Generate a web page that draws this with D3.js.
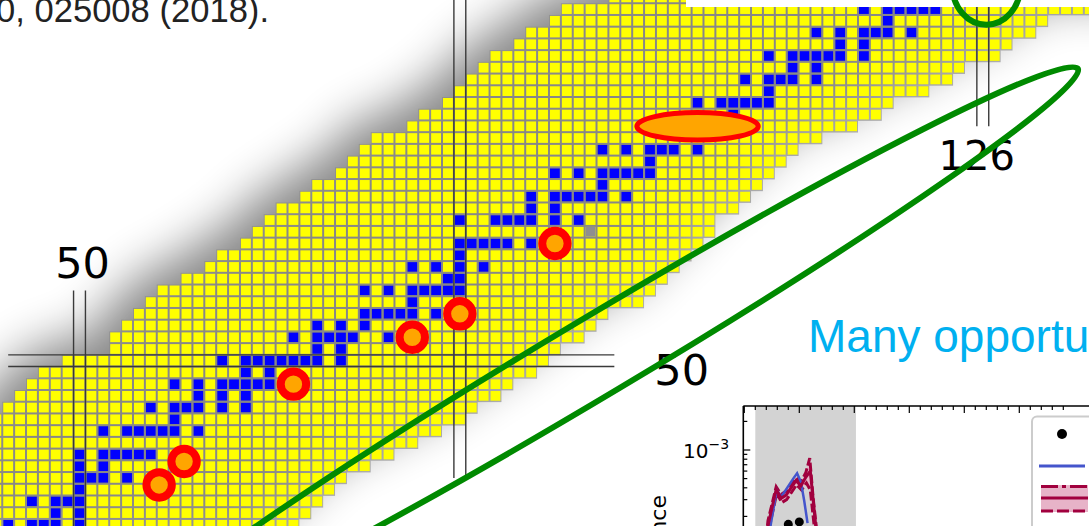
<!DOCTYPE html>
<html>
<head>
<meta charset="utf-8">
<script src="https://cdn.jsdelivr.net/npm/d3@7"></script>
<style>
  html, body { margin: 0; padding: 0; background: #fff; overflow: hidden; }
  svg { display: block; }
</style>
</head>
<body>
<svg id="chart" width="1089" height="526"></svg>
<script>
// ---- Chart of nuclides: one row per proton number Z, cells for neutron number N ----
const rowZ    = [34, 35, 36, 37, 38, 39, 40, 41, 42, 43, 44, 45, 46, 47, 48, 49, 50, 51, 52, 53, 54, 55, 56, 57, 58, 59, 60, 61, 62, 63, 64, 65, 66, 67, 68, 69, 70, 71, 72, 73, 74, 75, 76, 77, 78, 79, 80, 81, 82, 83];
const rowNmin = [36, 37, 38, 39, 40, 41, 41, 42, 42, 43, 43, 43, 44, 45, 46, 47, 49, 53, 53, 54, 55, 56, 57, 59, 61, 62, 64, 65, 66, 67, 69, 70, 72, 73, 74, 75, 78, 79, 81, 82, 83, 84, 85, 87, 88, 90, 91, 95, 96, 98];
const rowNmax = [64, 66, 68, 69, 70, 71, 72, 74, 76, 78, 80, 82, 83, 85, 86, 88, 89, 90, 92, 93, 94, 97, 98, 99, 100, 101, 102, 103, 103, 105, 106, 107, 108, 109, 110, 112, 115, 117, 118, 121, 123, 124, 127, 128, 130, 131, 140, 140, 140, 140];

// highlighted nuclides [N, Z]
const blueCells = [
  [116,80],[118,80],[119,80],[120,80],[121,80],[122,80],
  [118,79],
  [112,78],[114,78],[116,78],[117,78],[118,78],[120,78],
  [114,77],[116,77],
  [108,76],[110,76],[111,76],[112,76],[113,76],[114,76],[116,76],
  [110,75],[112,75],
  [106,74],[108,74],[109,74],[110,74],[112,74],
  [108,73],
  [102,72],[104,72],[105,72],[106,72],[107,72],[108,72],
  [105,71],
  [94,68],[96,68],[98,68],[99,68],[100,68],[102,68],
  [98,67],
  [90,66],[92,66],[94,66],[95,66],[96,66],[97,66],[98,66],
  [94,65],
  [88,64],[90,64],[91,64],[92,64],[93,64],[94,64],[96,64],
  [88,63],[90,63],
  [82,62],[85,62],[86,62],[87,62],[88,62],[90,62],[92,62],
  [82,60],[83,60],[84,60],[85,60],[86,60],[88,60],
  [82,59],
  [78,58],[80,58],[82,58],[84,58],
  [81,57],[82,57],
  [74,56],[76,56],[78,56],[79,56],[80,56],[81,56],[82,56],
  [78,55],
  [74,54],[75,54],[76,54],[77,54],[78,54],[80,54],
  [70,53],[72,53],[74,53],
  [68,52],[70,52],[71,52],[72,52],[73,52],[76,52],
  [70,51],[72,51],
  [62,50],[64,50],[65,50],[66,50],[67,50],[68,50],[69,50],[70,50],[72,50],
  [64,49],[66,49],
  [58,48],[60,48],[62,48],[63,48],[64,48],[65,48],[66,48],
  [60,47],[62,47],[64,47],
  [56,46],[58,46],[59,46],[60,46],[62,46],[64,46],
  [58,45],
  [52,44],[54,44],[55,44],[56,44],[57,44],[58,44],[60,44],
  [50,42],[52,42],[53,42],[54,42],[55,42],[56,42],
  [50,41],[52,41],
  [50,40],[51,40],[52,40],[54,40],
  [50,39],
  [46,38],[48,38],[49,38],[50,38],
  [48,37],[50,37],
  [44,36],[46,36],[47,36],[48,36],[50,36]
];
const grayCells = [[93,61]];

// circled nuclides [N, Z]
const circleMarks = [[90,60],[82,54],[78,52],[68,48],[58.8,41.4],[56.7,39.4]];
// elongated marker around a group of nuclides [N, Z]
const ovalMark = [102, 70];
// region outlines, centres in [N, Z]
const regionOval = [93.55, 50.4];
const doublyMagic = [126.3, 82.0];

// magic numbers and the extent of their guide lines
const magicN      = [50, 82, 126];
const magicNFromZ = [30, 40, 70];
const magicNToZ   = [56, 90, 90];
const magicZ      = [50];
const magicZFromN = [44];
const magicZToN   = [95];

// inset: isotopic abundance vs mass number
const centreA = [94.0, 94.3, 95.8, 96.7, 97.6, 99.4, 100.3, 101.2, 102.0, 103.2];
const centreV = [1.1e-4, 1.6e-4, 3.85e-4, 3.1e-4, 3.35e-4, 4.75e-4, 4.2e-4, 5.2e-4, 6.0e-4, 1.2e-4];
const upperA  = [94.0, 94.3, 95.8, 96.7, 97.6, 99.4, 100.3, 101.2, 101.9, 102.5, 103.3];
const upperV  = [1.2e-4, 1.8e-4, 4.1e-4, 3.4e-4, 3.7e-4, 5.1e-4, 4.6e-4, 5.8e-4, 8.2e-4, 3.2e-4, 1.2e-4];
const lowerA  = [94.2, 94.5, 95.9, 96.8, 97.7, 99.5, 100.4, 101.3, 102.0, 103.0];
const lowerV  = [1.1e-4, 1.5e-4, 3.5e-4, 2.8e-4, 3.0e-4, 4.3e-4, 3.8e-4, 4.5e-4, 3.8e-4, 1.1e-4];
const modelA  = [94.4, 95.9, 96.7, 98.9, 99.6, 100.3, 100.9, 101.5];
const modelV  = [1.2e-4, 3.8e-4, 3.2e-4, 5.0e-4, 5.7e-4, 4.6e-4, 2.9e-4, 1.7e-4];
const obsA    = [98.0, 100.0];
const obsV    = [1.65e-4, 1.75e-4];

const svg = d3.select("#chart");
const W = 1089, H = 526;

// cell pitch follows from the scales
const x = d3.scaleLinear().domain([50, 126]).range([79.5, 982.8]);
const y = d3.scaleLinear().domain([50, 80]).range([360.7, 9.1]);
const pw = x(51) - x(50);
const ph = y(50) - y(51);
const gap = 2;

const defs = svg.append("defs");
const soft = defs.append("filter").attr("id", "soft")
  .attr("filterUnits", "userSpaceOnUse")
  .attr("x", -300).attr("y", -300).attr("width", 1800).attr("height", 1200);
soft.append("feGaussianBlur").attr("stdDeviation", 24);

svg.append("rect").attr("width", W).attr("height", H).attr("fill", "#fff");

const rows = rowZ.map((z, i) => ({ z, n0: rowNmin[i], n1: rowNmax[i] }));
const rowRect = sel => sel
  .attr("x", d => x(d.n0) - pw / 2)
  .attr("y", d => y(d.z) - ph / 2)
  .attr("width", d => x(d.n1) - x(d.n0) + pw)
  .attr("height", ph + 0.4);

// drop shadow of the whole band
svg.append("g")
  .attr("filter", "url(#soft)")
  .attr("opacity", 0.47)
  .append("g").attr("transform", "translate(-15,-15)")
  .selectAll("rect").data(rows).join("rect")
  .call(rowRect)
  .attr("fill", "#000");

// grid lines between cells
svg.append("g").attr("opacity", 0.66)
  .selectAll("rect").data(rows).join("rect")
  .call(rowRect)
  .attr("fill", "#8a8a8a");

// yellow cells
const cells = [];
rows.forEach(r => { for (let n = r.n0; n <= r.n1; n++) cells.push([n, r.z]); });
const cellRect = sel => sel
  .attr("x", d => x(d[0]) - pw / 2 + gap / 2)
  .attr("y", d => y(d[1]) - ph / 2 + gap / 2)
  .attr("width", pw - gap).attr("height", ph - gap);
const cellG = svg.append("g");
cellG.selectAll("rect.known").data(cells).join("rect")
  .attr("class", "known").call(cellRect).attr("fill", "#ffff00");
cellG.selectAll("rect.hl").data(blueCells).join("rect")
  .attr("class", "hl").call(cellRect).attr("fill", "#0000ff");
cellG.selectAll("rect.gr").data(grayCells).join("rect")
  .attr("class", "gr").call(cellRect).attr("fill", "#8f8f8f");

// magic-number guide lines
const lineG = svg.append("g").attr("stroke", "#3a3a3a").attr("stroke-width", 1.4);
magicN.forEach((n, i) => {
  [-0.5, 0.5].forEach(o => {
    lineG.append("line")
      .attr("x1", x(n + o)).attr("x2", x(n + o))
      .attr("y1", y(magicNToZ[i])).attr("y2", y(magicNFromZ[i]));
  });
});
magicZ.forEach((z, i) => {
  [-0.5, 0.5].forEach(o => {
    lineG.append("line")
      .attr("y1", y(z + o)).attr("y2", y(z + o))
      .attr("x1", x(magicZFromN[i])).attr("x2", x(magicZToN[i]));
  });
});

const labelFont = "DejaVu Sans, sans-serif";
// N = 50 label above its lines, N = 126 label below its lines
svg.append("text").attr("x", x(magicN[0]) + 3).attr("y", y(magicNToZ[0]) - 12)
  .attr("text-anchor", "middle").attr("font-family", labelFont).attr("font-size", 43)
  .text(magicN[0]);
svg.append("text").attr("x", x(magicN[2]) - 6).attr("y", y(magicNFromZ[2]) + 44)
  .attr("text-anchor", "middle").attr("font-family", labelFont).attr("font-size", 40)
  .text(magicN[2]);
magicZ.forEach((z, i) => {
  svg.append("text").attr("x", x(magicZToN[i]) + 40).attr("y", y(z) + 24)
    .attr("font-family", labelFont).attr("font-size", 43)
    .text(z);
});

// region outline (green)
const deg = -30.85;
svg.append("ellipse")
  .attr("transform", `translate(${x(regionOval[0])},${y(regionOval[1])}) rotate(${deg})`)
  .attr("rx", 560).attr("ry", 39)
  .attr("fill", "none").attr("stroke", "#008a00").attr("stroke-width", 6);

// orange oval over a chain of nuclides
svg.append("ellipse")
  .attr("cx", x(ovalMark[0])).attr("cy", y(ovalMark[1]))
  .attr("rx", 60.7).attr("ry", 13.7)
  .attr("fill", "#ffa500").attr("stroke", "#ff0000").attr("stroke-width", 5);

// circled nuclides
svg.append("g").selectAll("circle").data(circleMarks).join("circle")
  .attr("cx", d => x(d[0])).attr("cy", d => y(d[1]))
  .attr("r", 12.7)
  .attr("fill", "#ffa500").attr("stroke", "#ff0000").attr("stroke-width", 8);

// white caption box at the top edge
svg.append("rect").attr("x", 686).attr("y", -20).attr("width", 420).attr("height", 27)
  .attr("fill", "#fff");

// doubly magic corner
svg.append("ellipse")
  .attr("cx", x(doublyMagic[0])).attr("cy", y(doublyMagic[1]))
  .attr("rx", 34).attr("ry", 39)
  .attr("fill", "none").attr("stroke", "#008a00").attr("stroke-width", 6);

// reference line and slide heading
svg.append("text").attr("x", -4).attr("y", 22)
  .attr("font-family", "Liberation Sans, Arial, sans-serif").attr("font-size", 34.6)
  .attr("fill", "#222").text("0, 025008 (2018).");
svg.append("text").attr("x", 808).attr("y", 352)
  .attr("font-family", "Liberation Sans, Arial, sans-serif").attr("font-size", 46)
  .attr("fill", "#00b0f0").text("Many opportunities");

// ---- inset plot ----
const ix = d3.scaleLinear().domain([90, 150]).range([744.3, 1074.3]);
const iy = d3.scaleLog().domain([1e-4, 1e-3]).range([545, 450]);
const inset = svg.append("g");
inset.append("rect").attr("x", ix(92)).attr("y", 406).attr("width", ix(110.3) - ix(92)).attr("height", 140)
  .attr("fill", "#d3d3d3");

const pts = (as, vs) => as.map((a, i) => [ix(a), iy(vs[i])]);
const bandPoly = pts(upperA, upperV).concat(pts(lowerA, lowerV).reverse());
inset.append("path").attr("d", "M" + bandPoly.join("L") + "Z").attr("fill", "#e7b3c8").attr("opacity", 0.9);
const line = d3.line();
inset.append("path").attr("d", line(pts(upperA, upperV))).attr("fill", "none")
  .attr("stroke", "#a1003e").attr("stroke-width", 3).attr("stroke-dasharray", "9,3");
inset.append("path").attr("d", line(pts(lowerA, lowerV))).attr("fill", "none")
  .attr("stroke", "#a1003e").attr("stroke-width", 3).attr("stroke-dasharray", "9,3");
inset.append("path").attr("d", line(pts(modelA, modelV))).attr("fill", "none")
  .attr("stroke", "#4455cc").attr("stroke-width", 2.5);
inset.append("path").attr("d", line(pts(centreA, centreV))).attr("fill", "none")
  .attr("stroke", "#a1003e").attr("stroke-width", 3);
inset.selectAll("circle.obs").data(obsA).join("circle").attr("class", "obs")
  .attr("cx", d => ix(d)).attr("cy", (d, i) => iy(obsV[i])).attr("r", 4.5).attr("fill", "#000");

// frame and ticks
inset.append("line").attr("x1", 743.3).attr("x2", W + 5).attr("y1", 406).attr("y2", 406).attr("stroke", "#000").attr("stroke-width", 1.6);
inset.append("line").attr("x1", 743.3).attr("x2", 743.3).attr("y1", 406).attr("y2", H + 5).attr("stroke", "#000").attr("stroke-width", 1.6);
const xTicks = d3.range(90, 150, 2);
inset.selectAll("line.xt").data(xTicks).join("line").attr("class", "xt")
  .attr("x1", d => ix(d)).attr("x2", d => ix(d))
  .attr("y1", 406).attr("y2", d => 406 + (d % 10 === 0 ? 7 : 4))
  .attr("stroke", "#000").attr("stroke-width", 1.2);
const yTicks = [2e-4, 3e-4, 4e-4, 5e-4, 6e-4, 7e-4, 8e-4, 9e-4, 1e-3, 2e-3];
inset.selectAll("line.yt").data(yTicks).join("line").attr("class", "yt")
  .attr("x1", 743.3).attr("x2", d => 743.3 + (d === 1e-3 ? 7 : 4))
  .attr("y1", d => iy(d)).attr("y2", d => iy(d))
  .attr("stroke", "#000").attr("stroke-width", 1.2);
const yl = inset.append("text").attr("x", 683).attr("y", 458).attr("font-family", labelFont).attr("font-size", 20);
yl.append("tspan").text("10");
yl.append("tspan").attr("dy", -9).attr("font-size", 14).text("\u22123");
inset.append("text").attr("transform", "translate(666,495) rotate(-90)")
  .attr("text-anchor", "end").attr("font-family", labelFont).attr("font-size", 22).text("Abundance");

// legend
const lg = inset.append("g");
lg.append("rect").attr("x", 1032).attr("y", 416.5).attr("width", 80).attr("height", 130).attr("rx", 5)
  .attr("fill", "#fff").attr("stroke", "#cccccc").attr("stroke-width", 2);
lg.append("circle").attr("cx", 1062).attr("cy", 434).attr("r", 5).attr("fill", "#000");
lg.append("line").attr("x1", 1039).attr("x2", 1085).attr("y1", 466).attr("y2", 466).attr("stroke", "#4455cc").attr("stroke-width", 3);
lg.append("rect").attr("x", 1041).attr("y", 485).attr("width", 47).attr("height", 27).attr("fill", "#e7b3c8");
lg.append("line").attr("x1", 1041).attr("x2", 1088).attr("y1", 486.5).attr("y2", 486.5).attr("stroke", "#a1003e").attr("stroke-width", 3).attr("stroke-dasharray", "17,4,4,4");
lg.append("line").attr("x1", 1041).attr("x2", 1088).attr("y1", 498).attr("y2", 498).attr("stroke", "#a1003e").attr("stroke-width", 3);
lg.append("line").attr("x1", 1041).attr("x2", 1088).attr("y1", 511).attr("y2", 511).attr("stroke", "#a1003e").attr("stroke-width", 3).attr("stroke-dasharray", "12,4");
</script>
</body>
</html>
